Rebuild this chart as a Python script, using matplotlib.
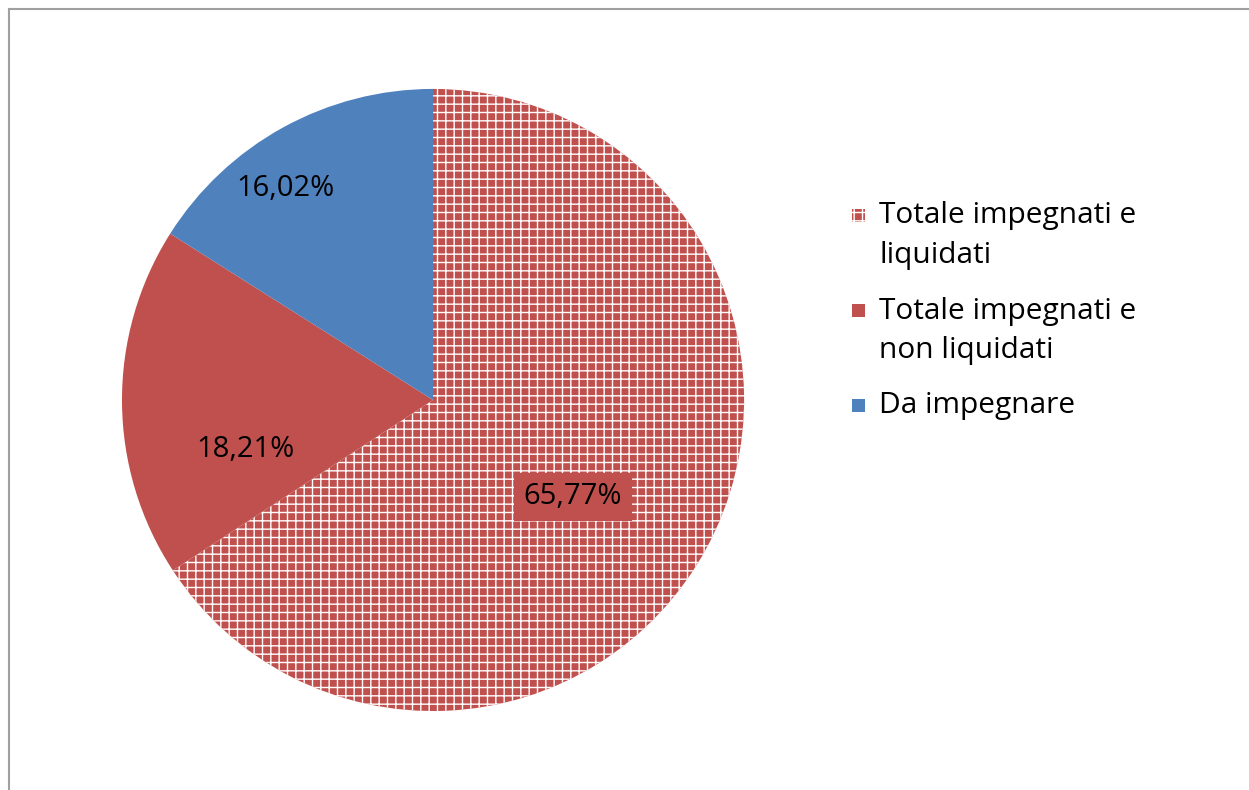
import matplotlib.pyplot as plt
import numpy as np
from matplotlib.patches import Rectangle
from matplotlib.lines import Line2D

# Data
labels = ["Totale impegnati e\nliquidati", "Totale impegnati e\nnon liquidati", "Da impegnare"]
values = [65.77, 18.21, 16.02]
colors = ["#C0504D", "#C0504D", "#4F81BD"]
hatches = ["++", None, None]

plt.rcParams['font.family'] = ['Open Sans', 'DejaVu Sans']
plt.rcParams['hatch.linewidth'] = 1.0

W, H = 1249, 790
fig = plt.figure(figsize=(W / 100, H / 100), dpi=100)
ax = fig.add_axes([0.0745, 0.0633, 0.5444, 0.8608])

wedges, _ = ax.pie(values, colors=colors, startangle=90, counterclock=False,
                   radius=1.0, wedgeprops=dict(linewidth=0))
for w, h in zip(wedges, hatches):
    if h:
        w.set_hatch(h)
        w.set_edgecolor("white")

ax.set_xlim(-1.093, 1.093)
ax.set_ylim(-1.093, 1.093)
ax.set_aspect('equal')

# data labels (Excel "best fit" style placement)
label_dist = [0.547, 0.624, 0.83]
angle_shift = [-6.3, 14.2, 6.1]
for w, v, d, s in zip(wedges, values, label_dist, angle_shift):
    ang = np.deg2rad((w.theta1 + w.theta2) / 2 + s)
    x, y = d * np.cos(ang), d * np.sin(ang)
    txt = f"{v:.2f}%".replace('.', ',')
    box = None
    if w.get_hatch():
        box = dict(facecolor="#C0504D", edgecolor="none", pad=7)
    ax.text(x, y, txt, ha='center', va='center', fontsize=21, color='black', bbox=box)

# legend, Excel style: marker next to the first line of each entry
line_h = 40      # px between wrapped lines
entry_gap = 15   # extra px between entries
y = 215
for lab, c, h in zip(labels, colors, hatches):
    sq = 13
    fig.add_artist(Rectangle(((852) / W, 1 - (y + sq / 2) / H), sq / W, sq / H,
                             transform=fig.transFigure, facecolor=c,
                             edgecolor='white' if h else c, hatch=h, linewidth=0))
    for j, part in enumerate(lab.split("\n")):
        fig.text(879 / W, 1 - (y + 1) / H, part, ha='left', va='center', fontsize=21.5)
        if j < lab.count("\n"):
            y += line_h
    y += line_h + entry_gap

# outer chart border (top and left visible)
fig.add_artist(Line2D([9 / W, 1.0], [1 - 9 / H, 1 - 9 / H], color='#A0A0A0', lw=1.5,
                      transform=fig.transFigure))
fig.add_artist(Line2D([9 / W, 9 / W], [0, 1 - 9 / H], color='#A0A0A0', lw=1.5,
                      transform=fig.transFigure))

fig.savefig("out.png", dpi=100)
